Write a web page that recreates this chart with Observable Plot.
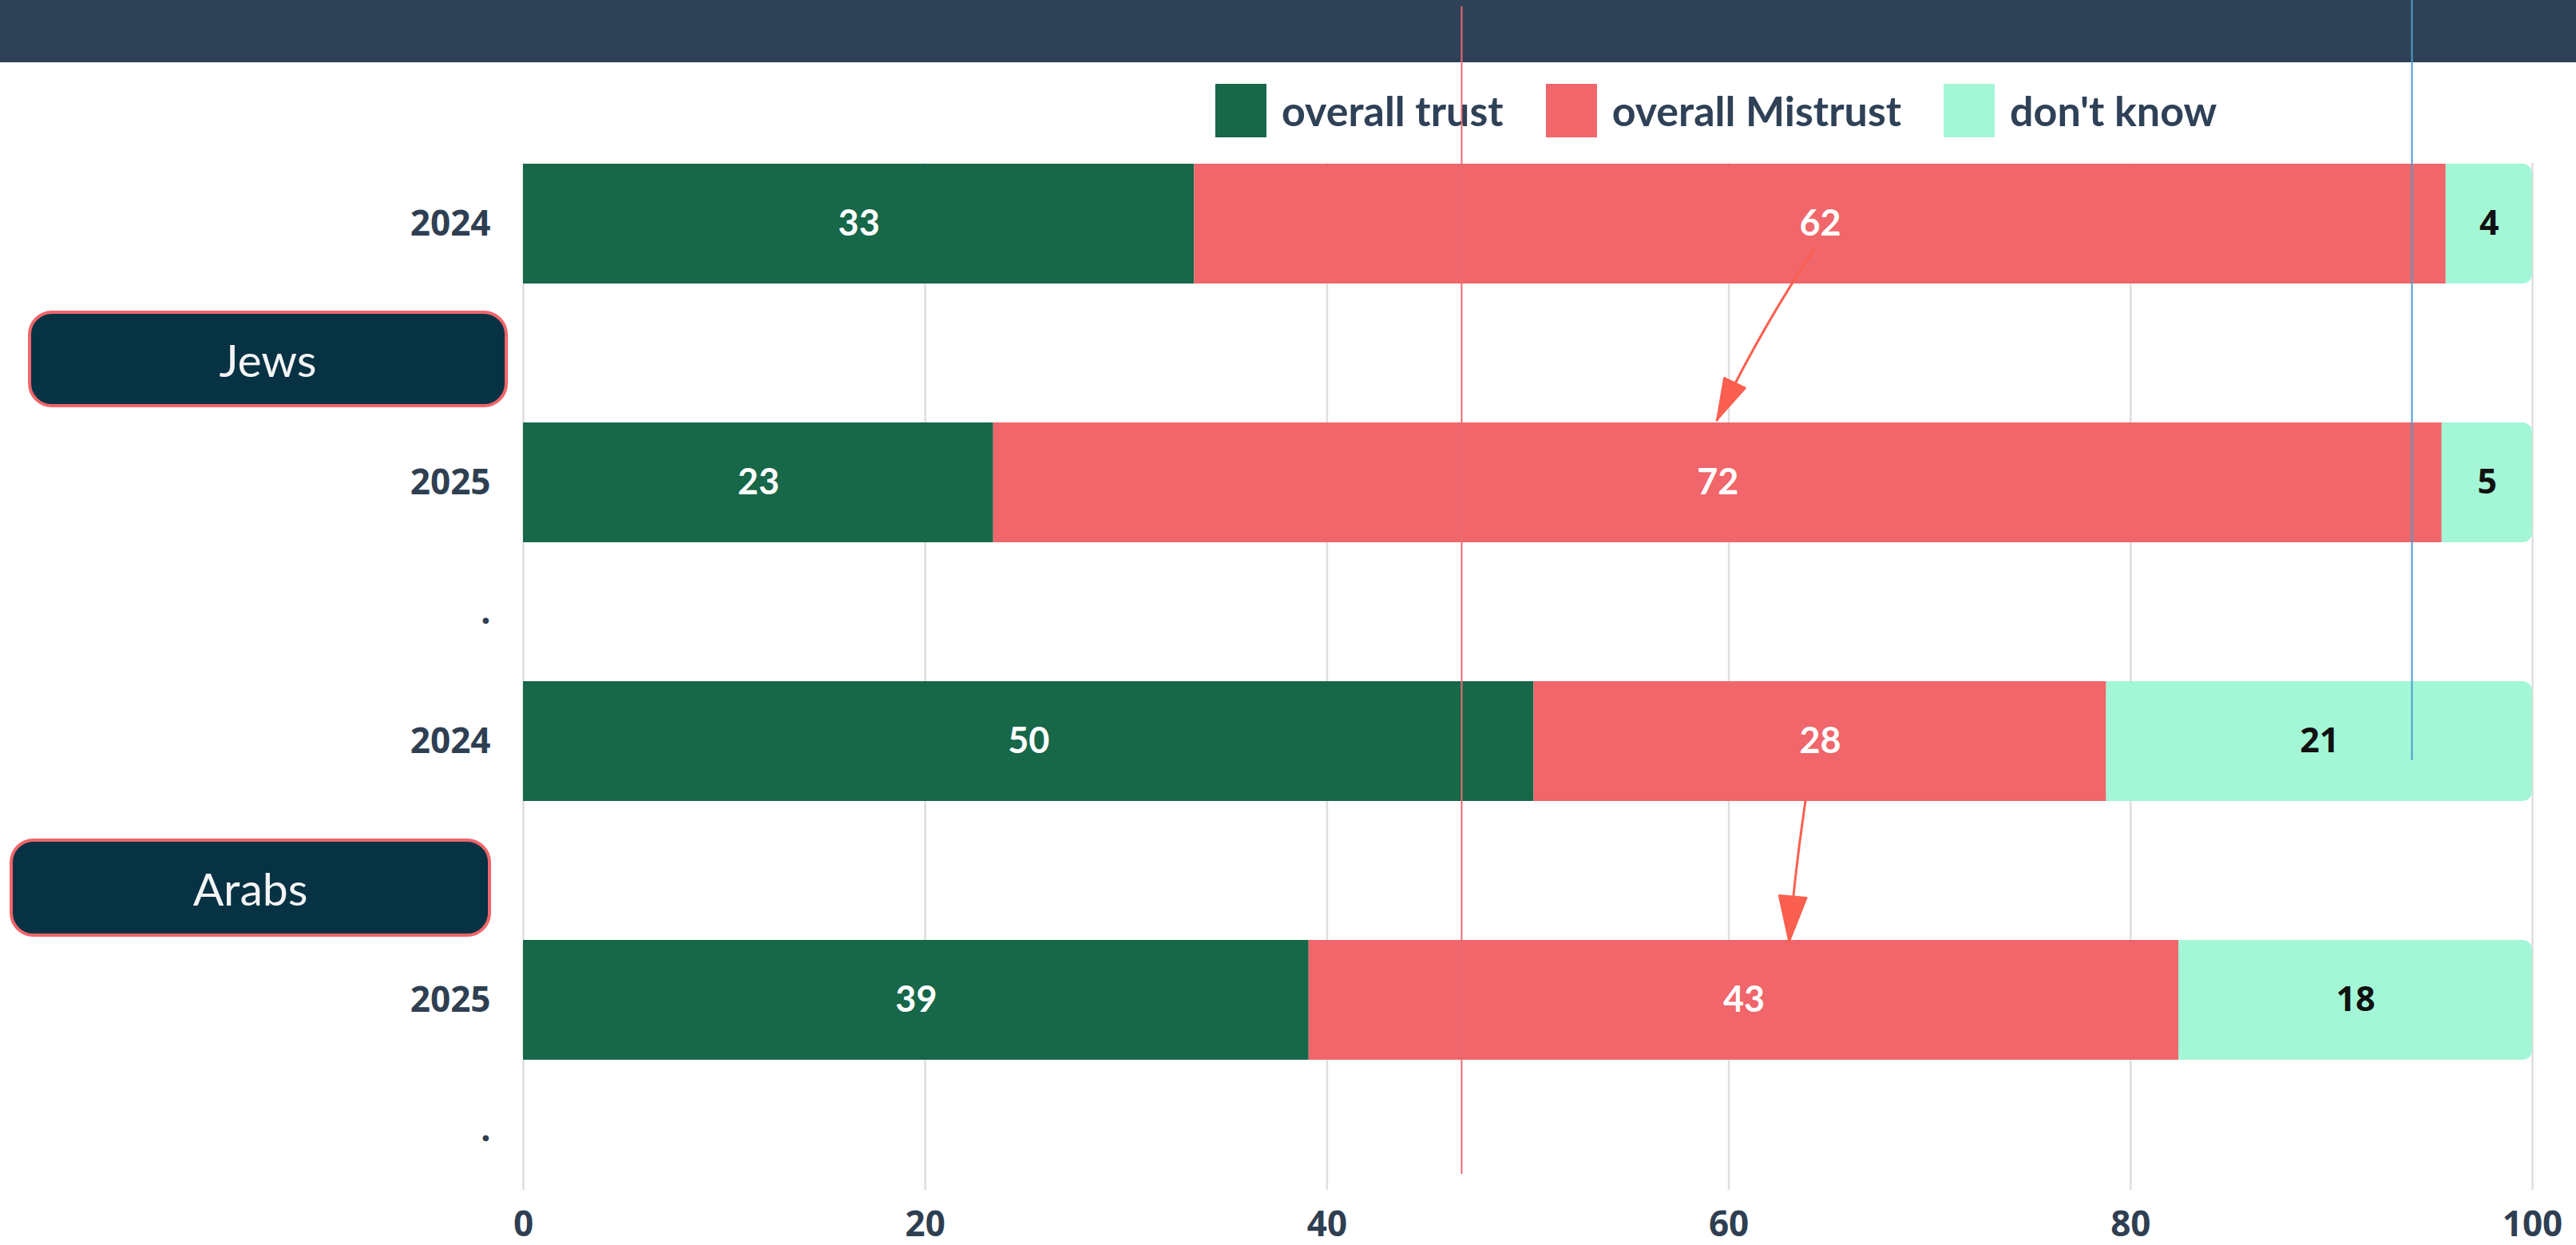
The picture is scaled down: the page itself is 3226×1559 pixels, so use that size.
<!DOCTYPE html>
<html>
<head>
<meta charset="utf-8">
<script src="https://cdn.jsdelivr.net/npm/d3@7"></script>
<script src="https://cdn.jsdelivr.net/npm/@observablehq/plot@0.6"></script>
<style>
  html, body { margin: 0; padding: 0; background: #fff; width: 3226px; height: 1559px; overflow: hidden; }
  #page { position: relative; width: 3226px; height: 1559px; }
  #header { position: absolute; left: 0; top: 0; width: 3226px; height: 78px; background: #2f4157; }
  #legend { position: absolute; left: 1522px; top: 105px; display: flex; align-items: center;
            font-family: Lato, sans-serif; font-weight: 700; font-size: 52px; color: #2f4157; }
  #legend .sw { width: 64px; height: 67px; margin-right: 19px; flex: none; }
  #legend .lt { margin-right: 53px; line-height: 67px; white-space: nowrap; }
  .group { position: absolute; box-sizing: border-box; border: 4px solid #f0666a; background: #063244;
           border-radius: 30px; color: #f4f4f4; font-family: Lato, sans-serif; font-size: 57px;
           display: flex; align-items: center; justify-content: center; }
  #chart svg { position: absolute; left: 0; top: 0; }
</style>
</head>
<body>
<div id="page">
  <div id="header"></div>
  <div id="legend"></div>
  <div id="groups"></div>
  <div id="chart"></div>
</div>
<script>
// ---- data ----
const rowIds = ["J2024", "Jgap", "J2025", "Jdot", "A2024", "Agap", "A2025", "Adot"];
const rowLabels = ["2024", "", "2025", ".", "2024", "", "2025", "."];
const barRows = ["J2024", "J2025", "A2024", "A2025"];
const categories = ["overall trust", "overall Mistrust", "don't know"];
const trust = [33.4, 23.4, 50.3, 39.1];
const mistrust = [62.3, 72.1, 28.5, 43.3];
const dontKnow = [4.3, 4.5, 21.2, 17.6];
const trustLabels = [33, 23, 50, 39];
const mistrustLabels = [62, 72, 28, 43];
const dontKnowLabels = [4, 5, 21, 18];
const groups = ["Jews", "Arabs"];
const xTicks = [0, 20, 40, 60, 80, 100];
const arrowFrom = ["J2024", "A2024"];
const arrowTo = ["J2025", "A2025"];
const arrowX1 = [65.1, 64.3];
const arrowX2 = [58.0, 62.8];
const guideRed = [46.7];
const guideBlue = [94.0];
const colors = ["#176749", "#f0666a", "#a3f7d6"];

// ---- build tables ----
const series = [trust, mistrust, dontKnow];
const seriesLabels = [trustLabels, mistrustLabels, dontKnowLabels];
const segments = [];
barRows.forEach((row, i) => {
  let acc = 0;
  categories.forEach((cat, j) => {
    const v = series[j][i];
    segments.push({row, cat, x1: acc, x2: acc + v, label: seriesLabels[j][i]});
    acc += v;
  });
});
const arrows = arrowFrom.map((from, i) => ({from, to: arrowTo[i], x1: arrowX1[i], x2: arrowX2[i]}));
const isDK = d => d.cat === "don't know";
const mid = d => (d.x1 + d.x2) / 2;
const arrowColor = "#fa5f4f";

// ---- legend ----
const legend = document.getElementById("legend");
categories.forEach((c, i) => {
  const sw = document.createElement("div");
  sw.className = "sw"; sw.style.background = colors[i];
  const t = document.createElement("div");
  t.className = "lt"; t.textContent = c;
  legend.appendChild(sw); legend.appendChild(t);
});

// ---- group boxes ----
const groupBoxes = [
  {left: 35, top: 389, width: 601, height: 121},
  {left: 12, top: 1050, width: 603, height: 123}
];
const gEl = document.getElementById("groups");
groups.forEach((g, i) => {
  const b = document.createElement("div");
  b.className = "group";
  const p = groupBoxes[i];
  Object.assign(b.style, {left: p.left + "px", top: p.top + "px", width: p.width + "px", height: p.height + "px"});
  b.textContent = g;
  gEl.appendChild(b);
});

// ---- chart ----
const plot = Plot.plot({
  width: 3226,
  height: 1559,
  marginLeft: 655,
  marginRight: 55,
  marginTop: 204,
  marginBottom: 69,
  style: {background: "transparent", fontFamily: "'Open Sans', sans-serif", fontSize: "44px", fontWeight: 700, color: "#2f3f52", overflow: "visible"},
  x: {domain: [0, 100], ticks: xTicks, label: null, tickSize: 0, tickPadding: 26},
  y: {domain: rowIds, label: null, tickSize: 0, tickPadding: 41, paddingInner: 0.077, paddingOuter: 0,
      tickFormat: d => rowLabels[rowIds.indexOf(d)]},
  color: {domain: categories, range: colors},
  marks: [
    Plot.gridX(xTicks, {stroke: "#dedede", strokeOpacity: 1, strokeWidth: 2.5}),
    Plot.barX(segments.filter(d => !isDK(d)), {x1: "x1", x2: "x2", y: "row", fill: "cat"}),
    Plot.barX(segments.filter(isDK), {x1: "x1", x2: "x2", y: "row", fill: "cat", insetRight: 12}),
    Plot.barX(segments.filter(isDK), {x1: "x1", x2: "x2", y: "row", fill: "cat", rx: 12}),
    Plot.text(segments.filter(d => !isDK(d)), {x: mid, y: "row", text: "label", fill: "white",
      fontFamily: "Lato, sans-serif", fontWeight: 700, fontSize: 45}),
    Plot.text(segments.filter(isDK), {x: mid, y: "row", text: "label", fill: "#111",
      fontFamily: "'Open Sans', sans-serif", fontWeight: 700, fontSize: 43}),
    Plot.arrow([arrows[0]], {x1: "x1", x2: "x2", y1: "from", y2: "to", bend: -6, insetStart: 38, insetEnd: 86,
      headLength: 27, headAngle: 32, stroke: arrowColor, strokeWidth: 3}),
    Plot.arrow([arrows[1]], {x1: "x1", x2: "x2", y1: "from", y2: "to", bend: -3.5, insetStart: 74, insetEnd: 73,
      headLength: 30, headAngle: 34, stroke: arrowColor, strokeWidth: 3}),
    Plot.ruleX(guideRed, {stroke: "#ea6a70", strokeWidth: 2, insetTop: -196, insetBottom: 20}),
    Plot.ruleX(guideBlue, {stroke: "#4d9ccf", strokeWidth: 2, insetTop: -204, insetBottom: 538})
  ]
});

// turn the open arrow heads into filled triangles
plot.querySelectorAll('g[aria-label="arrow"] path').forEach(p => {
  const d = p.getAttribute("d");
  const idx = d.lastIndexOf("M");
  if (idx > 0) {
    p.setAttribute("d", d.slice(0, idx));
    const head = document.createElementNS("http://www.w3.org/2000/svg", "path");
    head.setAttribute("d", d.slice(idx) + "Z");
    head.setAttribute("fill", arrowColor);
    head.setAttribute("stroke", arrowColor);
    head.setAttribute("stroke-width", "2");
    head.setAttribute("stroke-linejoin", "miter");
    p.parentNode.appendChild(head);
  }
});

document.getElementById("chart").appendChild(plot);
</script>
</body>
</html>
